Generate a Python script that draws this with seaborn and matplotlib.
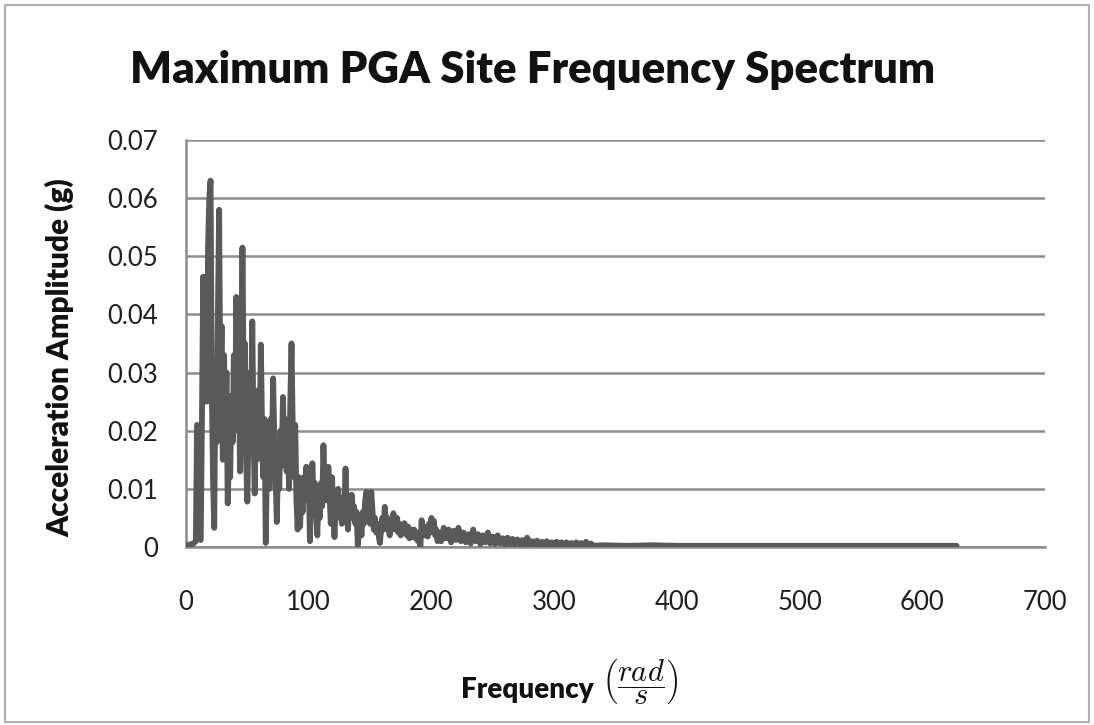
import numpy as np
import pandas as pd
import matplotlib
matplotlib.use("Agg")
import matplotlib.pyplot as plt
import seaborn as sns
from matplotlib.patches import Rectangle

# Spectrum amplitudes (g) sampled on a 1 rad/s grid from 0 to 205 rad/s
amp_low = [
    0.0003, 0.0002, 0.0004, 0.0003, 0.0005, 0.0004, 0.0006, 0.0008, 0.0010, 0.0210,
    0.0205, 0.0015, 0.0012, 0.0220, 0.0465, 0.0280, 0.0440, 0.0250, 0.0520, 0.0600,
    0.0630, 0.0280, 0.0120, 0.0033, 0.0300, 0.0180, 0.0400, 0.0580, 0.0250, 0.0380,
    0.0150, 0.0330, 0.0200, 0.0300, 0.0075, 0.0160, 0.0120, 0.0260, 0.0180, 0.0330,
    0.0200, 0.0430, 0.0230, 0.0350, 0.0130, 0.0300, 0.0515, 0.0280, 0.0350, 0.0150,
    0.0078, 0.0220, 0.0300, 0.0180, 0.0388, 0.0200, 0.0092, 0.0250, 0.0150, 0.0270,
    0.0180, 0.0348, 0.0200, 0.0120, 0.0220, 0.0007, 0.0150, 0.0200, 0.0100, 0.0220,
    0.0160, 0.0290, 0.0180, 0.0120, 0.0043, 0.0150, 0.0100, 0.0200, 0.0140, 0.0258,
    0.0160, 0.0220, 0.0130, 0.0180, 0.0100, 0.0250, 0.0350, 0.0200, 0.0120, 0.0210,
    0.0080, 0.0030, 0.0120, 0.0035, 0.0100, 0.0060, 0.0120, 0.0080, 0.0138, 0.0090,
    0.0120, 0.0010, 0.0100, 0.0144, 0.0080, 0.0110, 0.0060, 0.0020, 0.0090, 0.0050,
    0.0110, 0.0070, 0.0175, 0.0100, 0.0120, 0.0080, 0.0138, 0.0090, 0.0040, 0.0120,
    0.0070, 0.0017, 0.0080, 0.0050, 0.0100, 0.0060, 0.0085, 0.0040, 0.0070, 0.0050,
    0.0135, 0.0060, 0.0030, 0.0070, 0.0050, 0.0090, 0.0060, 0.0070, 0.0040, 0.0060,
    0.0003, 0.0030, 0.0050, 0.0020, 0.0060, 0.0040, 0.0080, 0.0095, 0.0050, 0.0070,
    0.0040, 0.0095, 0.0060, 0.0030, 0.0050, 0.0025, 0.0040, 0.0020, 0.0007, 0.0030,
    0.0050, 0.0030, 0.0069, 0.0040, 0.0050, 0.0030, 0.0020, 0.0040, 0.0030, 0.0058,
    0.0040, 0.0030, 0.0050, 0.0025, 0.0040, 0.0020, 0.0035, 0.0025, 0.0041, 0.0030,
    0.0020, 0.0035, 0.0015, 0.0030, 0.0020, 0.0017, 0.0030, 0.0015, 0.0025, 0.0010,
    0.0020, 0.0001, 0.0046, 0.0030, 0.0035, 0.0020, 0.0030, 0.0018, 0.0040, 0.0025,
    0.0050, 0.0035, 0.0045, 0.0020, 0.0030, 0.0010,
]
freq_low = np.arange(0, len(amp_low), 1.0)

# Amplitudes on a 2 rad/s grid from 206 to 332 rad/s
amp_mid = [
    0.0025, 0.0010, 0.0033, 0.0015, 0.0030, 0.0008, 0.0028, 0.0012, 0.0033, 0.0010,
    0.0025, 0.0008, 0.0022, 0.0006, 0.0030, 0.0010, 0.0022, 0.0005, 0.0020, 0.0008,
    0.0025, 0.0006, 0.0018, 0.0005, 0.0020, 0.0006, 0.0015, 0.0004, 0.0016, 0.0005,
    0.0014, 0.0004, 0.0013, 0.0004, 0.0012, 0.0004, 0.0016, 0.0004, 0.0010, 0.0003,
    0.0011, 0.0003, 0.0009, 0.0003, 0.0010, 0.0003, 0.0008, 0.0003, 0.0009, 0.0003,
    0.0008, 0.0002, 0.0008, 0.0003, 0.0007, 0.0002, 0.0008, 0.0003, 0.0007, 0.0002,
    0.0009, 0.0003, 0.0006, 0.0002,
]
freq_mid = 206 + 2.0 * np.arange(len(amp_mid))

# Near-zero high-frequency tail
freq_tail = [340, 360, 380, 400, 450, 500, 550, 600, 628]
amp_tail = [0.0003, 0.0002, 0.0003, 0.0002, 0.0002, 0.0002, 0.0002, 0.0002, 0.0002]

x_ticks = [0, 100, 200, 300, 400, 500, 600, 700]
y_ticks = [0, 0.01, 0.02, 0.03, 0.04, 0.05, 0.06, 0.07]
y_tick_labels = ["0", "0.01", "0.02", "0.03", "0.04", "0.05", "0.06", "0.07"]

df = pd.DataFrame({
    "freq": np.concatenate([freq_low, freq_mid, freq_tail]),
    "amp": np.concatenate([amp_low, amp_mid, amp_tail]),
})

sns.set_style("white")
plt.rcParams["font.family"] = ["Lato", "DejaVu Sans"]
plt.rcParams["mathtext.fontset"] = "cm"

W, H = 1094, 725
fig = plt.figure(figsize=(W / 100, H / 100), dpi=100)
ax = fig.add_axes([186 / W, 1 - 547 / H, (1045 - 186) / W, (547 - 140) / H])

sns.lineplot(data=df, x="freq", y="amp", ax=ax, color="#595959",
             linewidth=4.2, sort=True, estimator=None, zorder=3)

ax.set_xlim(0, 700)
ax.set_ylim(0, 0.07)
ax.set_xticks(x_ticks)
ax.set_xticklabels([str(v) for v in x_ticks])
ax.set_yticks(y_ticks)
ax.set_yticklabels(y_tick_labels)
ax.tick_params(axis="both", length=0, labelsize=18.5, colors="#1f1f1f")
ax.tick_params(axis="x", pad=31)
ax.tick_params(axis="y", pad=20)

ax.yaxis.grid(True, color="#8c8c8c", linewidth=1.8)
ax.xaxis.grid(False)
for side in ["top", "right"]:
    ax.spines[side].set_visible(False)
for side in ["left", "bottom"]:
    ax.spines[side].set_color("#8c8c8c")
    ax.spines[side].set_linewidth(1.8)

ax.set_xlabel("")
ax.set_ylabel("")

fig.text(533 / W, 1 - 70 / H, "Maximum PGA Site Frequency Spectrum",
         ha="center", va="center", fontsize=31.5, fontweight="heavy", color="#111111")
fig.text(60 / W, 1 - 358 / H, "Acceleration Amplitude (g)", rotation=90,
         ha="center", va="center", fontsize=21.5, fontweight="heavy", color="#111111")
fig.text(594 / W, 1 - 690 / H, "Frequency",
         ha="right", va="center", fontsize=20, fontweight="heavy", color="#111111")
fig.text(602 / W, 1 - 682 / H, r"$\left(\dfrac{rad}{s}\right)$",
         ha="left", va="center", fontsize=22, color="#111111")

# Chart-area border
fig.patches.append(Rectangle((5 / W, 3 / H), (W - 10) / W, (H - 8) / H,
                             transform=fig.transFigure, fill=False,
                             edgecolor="#b0b0b0", linewidth=1.5))

fig.savefig("out.png", dpi=100)
